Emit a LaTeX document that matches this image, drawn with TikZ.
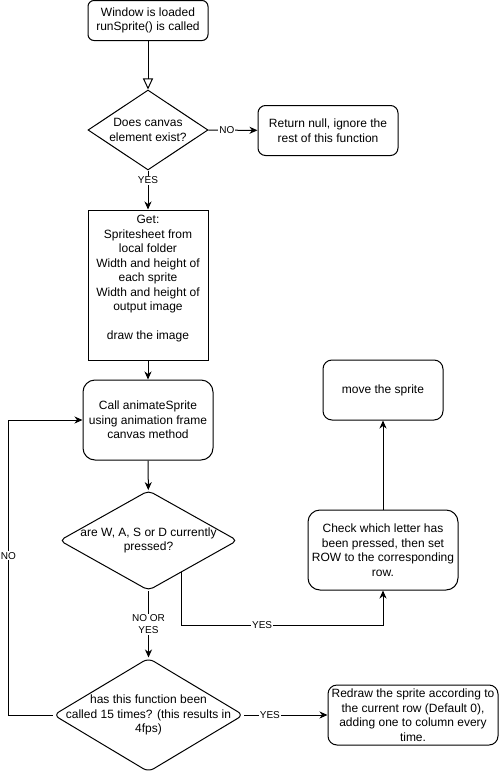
\documentclass[tikz,border=0pt]{standalone}
\usepackage{fontspec}
\setmainfont{Liberation Sans}
\usetikzlibrary{shapes.geometric,arrows.meta}

\begin{document}
\begin{tikzpicture}
[
    x=1pt, y=-1pt,
    line width=1pt,
    every node/.style={font=\fontsize{12}{14.5}\selectfont, align=center},
    process/.style={draw, rounded corners=#1, inner sep=0pt},
    process/.default=9pt,
    getbox/.style={draw, inner sep=0pt},
    decision/.style={draw, diamond, inner sep=0pt},
    edgelabel/.style={fill=white, inner sep=1pt, font=\fontsize{10}{12}\selectfont},
    arrow/.style={-{Stealth[length=8pt,width=7pt,inset=2.5pt]}},
]
\useasboundingbox (0,0) rectangle (499,771);

\node[process=6pt, minimum width=120pt, minimum height=40pt] (start) at (148,20.5)
    {Window is loaded\\runSprite() is called};
\node[decision, minimum width=120pt, minimum height=80pt,
    label={center:{Does canvas\\element exist?}}] (exist) at (148,130) {};
\node[process=7.5pt, minimum width=140pt, minimum height=50pt] (nullbox) at (328,130.5)
    {Return null, ignore the\\rest of this function};
\node[getbox, minimum width=120pt, minimum height=150pt] (get) at (148,285)
    {Get:\\Spritesheet from\\local folder\\Width and height of\\each sprite\\Width and height of\\output image\\ \mbox{}\\ draw the image\\ \mbox{}};
\node[process=12pt, minimum width=130pt, minimum height=80pt] (call) at (148,420)
    {Call animateSprite\\using animation frame\\canvas method};
\node[decision, rounded corners=5pt, minimum width=178pt, minimum height=100pt,
    label={center:{are W, A, S or D currently\\pressed?}}] (keys) at (148.5,540.5) {};
\node[decision, rounded corners=6pt, minimum width=190pt, minimum height=114pt,
    label={center:{has this function been\\called 15 times? (this results in\\4fps)}}] (count) at (148.5,715) {};
\node[process=9pt, minimum width=120pt, minimum height=60pt] (move) at (383,390)
    {move the sprite};
\node[process=12pt, minimum width=150pt, minimum height=80pt] (check) at (383,550)
    {Check which letter has\\been pressed, then set\\ROW to the corresponding\\row.};
\node[process=9pt, minimum width=170pt, minimum height=60pt] (redraw) at (413,715)
    {Redraw the sprite according to\\the current row (Default 0),\\adding one to column every\\time.};

\coordinate (yesturn) at (383,625);
\coordinate (loop) at (8.5,420);

\draw[-{Triangle[open,length=11pt,width=10pt]}] (start) -- (exist);
\draw[arrow] (exist) -- node[edgelabel, pos=0.38] {NO} (nullbox);
\draw[arrow] (exist) -- node[edgelabel, pos=0.25] {YES} (get);
\draw[arrow] (get) -- (call);
\draw[arrow] (call) -- (keys);
\draw[arrow] (keys) -- node[edgelabel] {NO OR\\YES} (count);
\draw[arrow] (keys.-44) |- node[edgelabel, pos=0.7] {YES} (yesturn) -- (check);
\draw[arrow] (check) -- (move);
\draw[arrow] (count) -| node[edgelabel, pos=0.77] {NO} (loop) -- (call);
\draw[arrow] (count) -- node[edgelabel, pos=0.31] {YES} (redraw);
\end{tikzpicture}
\end{document}
